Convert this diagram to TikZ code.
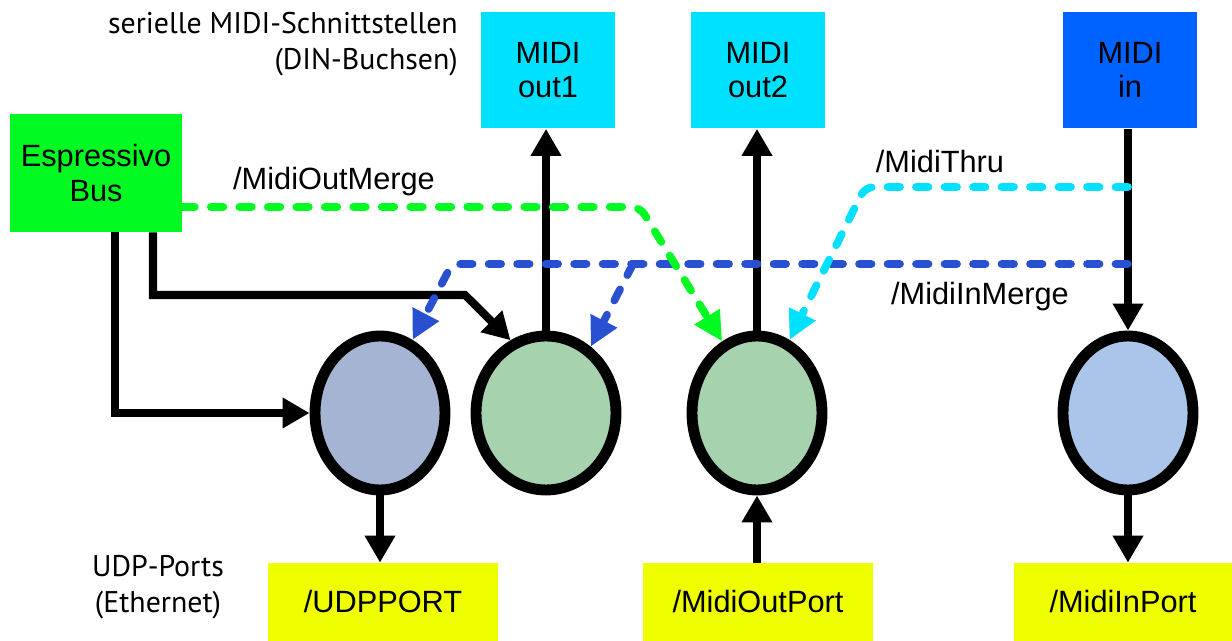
\documentclass[tikz,border=0pt]{standalone}
\usepackage{fontspec}
\setmainfont{Liberation Sans}
\newfontfamily\notefont{PT Sans}
\usetikzlibrary{arrows.meta,shapes.geometric}

\definecolor{dinport}{RGB}{0,225,255}
\definecolor{dinin}{RGB}{0,98,255}
\definecolor{busgreen}{RGB}{0,250,34}
\definecolor{udpyellow}{RGB}{240,255,0}
\definecolor{sockblue}{RGB}{165,180,210}
\definecolor{sockgreen}{RGB}{166,210,174}
\definecolor{socklight}{RGB}{170,196,234}
\definecolor{mergeblue}{RGB}{40,80,208}

\begin{document}
\begin{tikzpicture}[
  x=0.02cm, y=-0.02cm,
  font=\fontsize{17.5}{19.5}\selectfont,
  din/.style={rectangle, inner sep=0pt, align=center,
    minimum width=2.68cm, minimum height=2.34cm},
  udp/.style={rectangle, inner sep=0pt, fill=udpyellow,
    minimum width=4.6cm, minimum height=1.56cm},
  sock/.style={ellipse, draw, line width=6.2pt, inner sep=0pt,
    minimum width=2.6cm, minimum height=3.08cm},
  note/.style={font=\notefont\fontsize{17}{20.5}\selectfont},
  flow/.style={line width=4.6pt, -{Triangle[length=0.54cm,width=0.58cm]}},
  ctrl/.style={line width=4.4pt, line cap=round, rounded corners=5pt,
    dash pattern=on 0.25cm off 0.32cm,
    -{Triangle[length=0.58cm,width=0.56cm]}}
]
\useasboundingbox (0,0) rectangle (1232,641);

% serial ports on top
\node[din, fill=dinport] (out1) at (548,70) {MIDI\\out1};
\node[din, fill=dinport] (out2) at (758,70) {MIDI\\out2};
\node[din, fill=dinin] (midiin) at (1130,70) {MIDI\\in};
\node[note, anchor=east, align=right] (serial) at (464,44)
  {serielle MIDI-Schnittstellen\\(DIN-Buchsen)};

\node[rectangle, fill=busgreen, inner sep=0pt, minimum width=3.44cm,
  minimum height=2.36cm, align=center] (bus) at (96,173) {Espressivo\\Bus};

% sockets
\node[sock, fill=sockblue] (udpsock) at (380,413) {};
\node[sock, fill=sockgreen, minimum width=2.8cm] (outsock1) at (546,413) {};
\node[sock, fill=sockgreen] (outsock2) at (757,413) {};
\node[sock, fill=socklight] (insock) at (1128,413) {};

% UDP ports below
\node[udp] (udpport) at (383,602) {/UDPPORT};
\node[udp] (outport) at (758,602) {/MidiOutPort};
\node[udp, minimum width=4.36cm] (inport) at (1123,602) {/MidiInPort};
\node[note, align=center] (ether) at (158,587) {UDP-Ports\\(Ethernet)};

% data flow
\draw[flow] ([xshift=0.38cm]bus.south) |- (udpsock.west);
\draw[flow] ([xshift=1.14cm]bus.south) |- (465,295) -- (outsock1.116);
\draw[flow] (outsock1.north) -- (outsock1.north |- out1.south);
\draw[flow] (outsock2.north) -- (outsock2.north |- out2.south);
\draw[flow] (insock.north |- midiin.south) -- (insock.north);
\draw[flow] (udpsock.south) -- (udpsock.south |- udpport.north);
\draw[flow] (outsock2.south |- outport.north) -- (outsock2.south);
\draw[flow] (insock.south) -- (insock.south |- inport.north);

% merge and thru paths
\coordinate (inmerge) at (1128,264);
\coordinate (inbranch) at (633,264);
\coordinate (thru) at (1128,187);
\draw[ctrl, mergeblue] (inmerge) -- (452,264) -- (udpsock.66);
\draw[ctrl, mergeblue] (inbranch) -- (outsock1.56);
\draw[ctrl, busgreen] ([yshift=-0.68cm]bus.east) -- (640,207) -- (outsock2.116);
\draw[ctrl, dinport] (thru) -- (865,187) -- (outsock2.66);

\node (outmerge) at (334,182) {/MidiOutMerge};
\node (midithru) at (940,162) {/MidiThru};
\node (midiinmerge) at (980,297) {/MidiInMerge};
\end{tikzpicture}
\end{document}
